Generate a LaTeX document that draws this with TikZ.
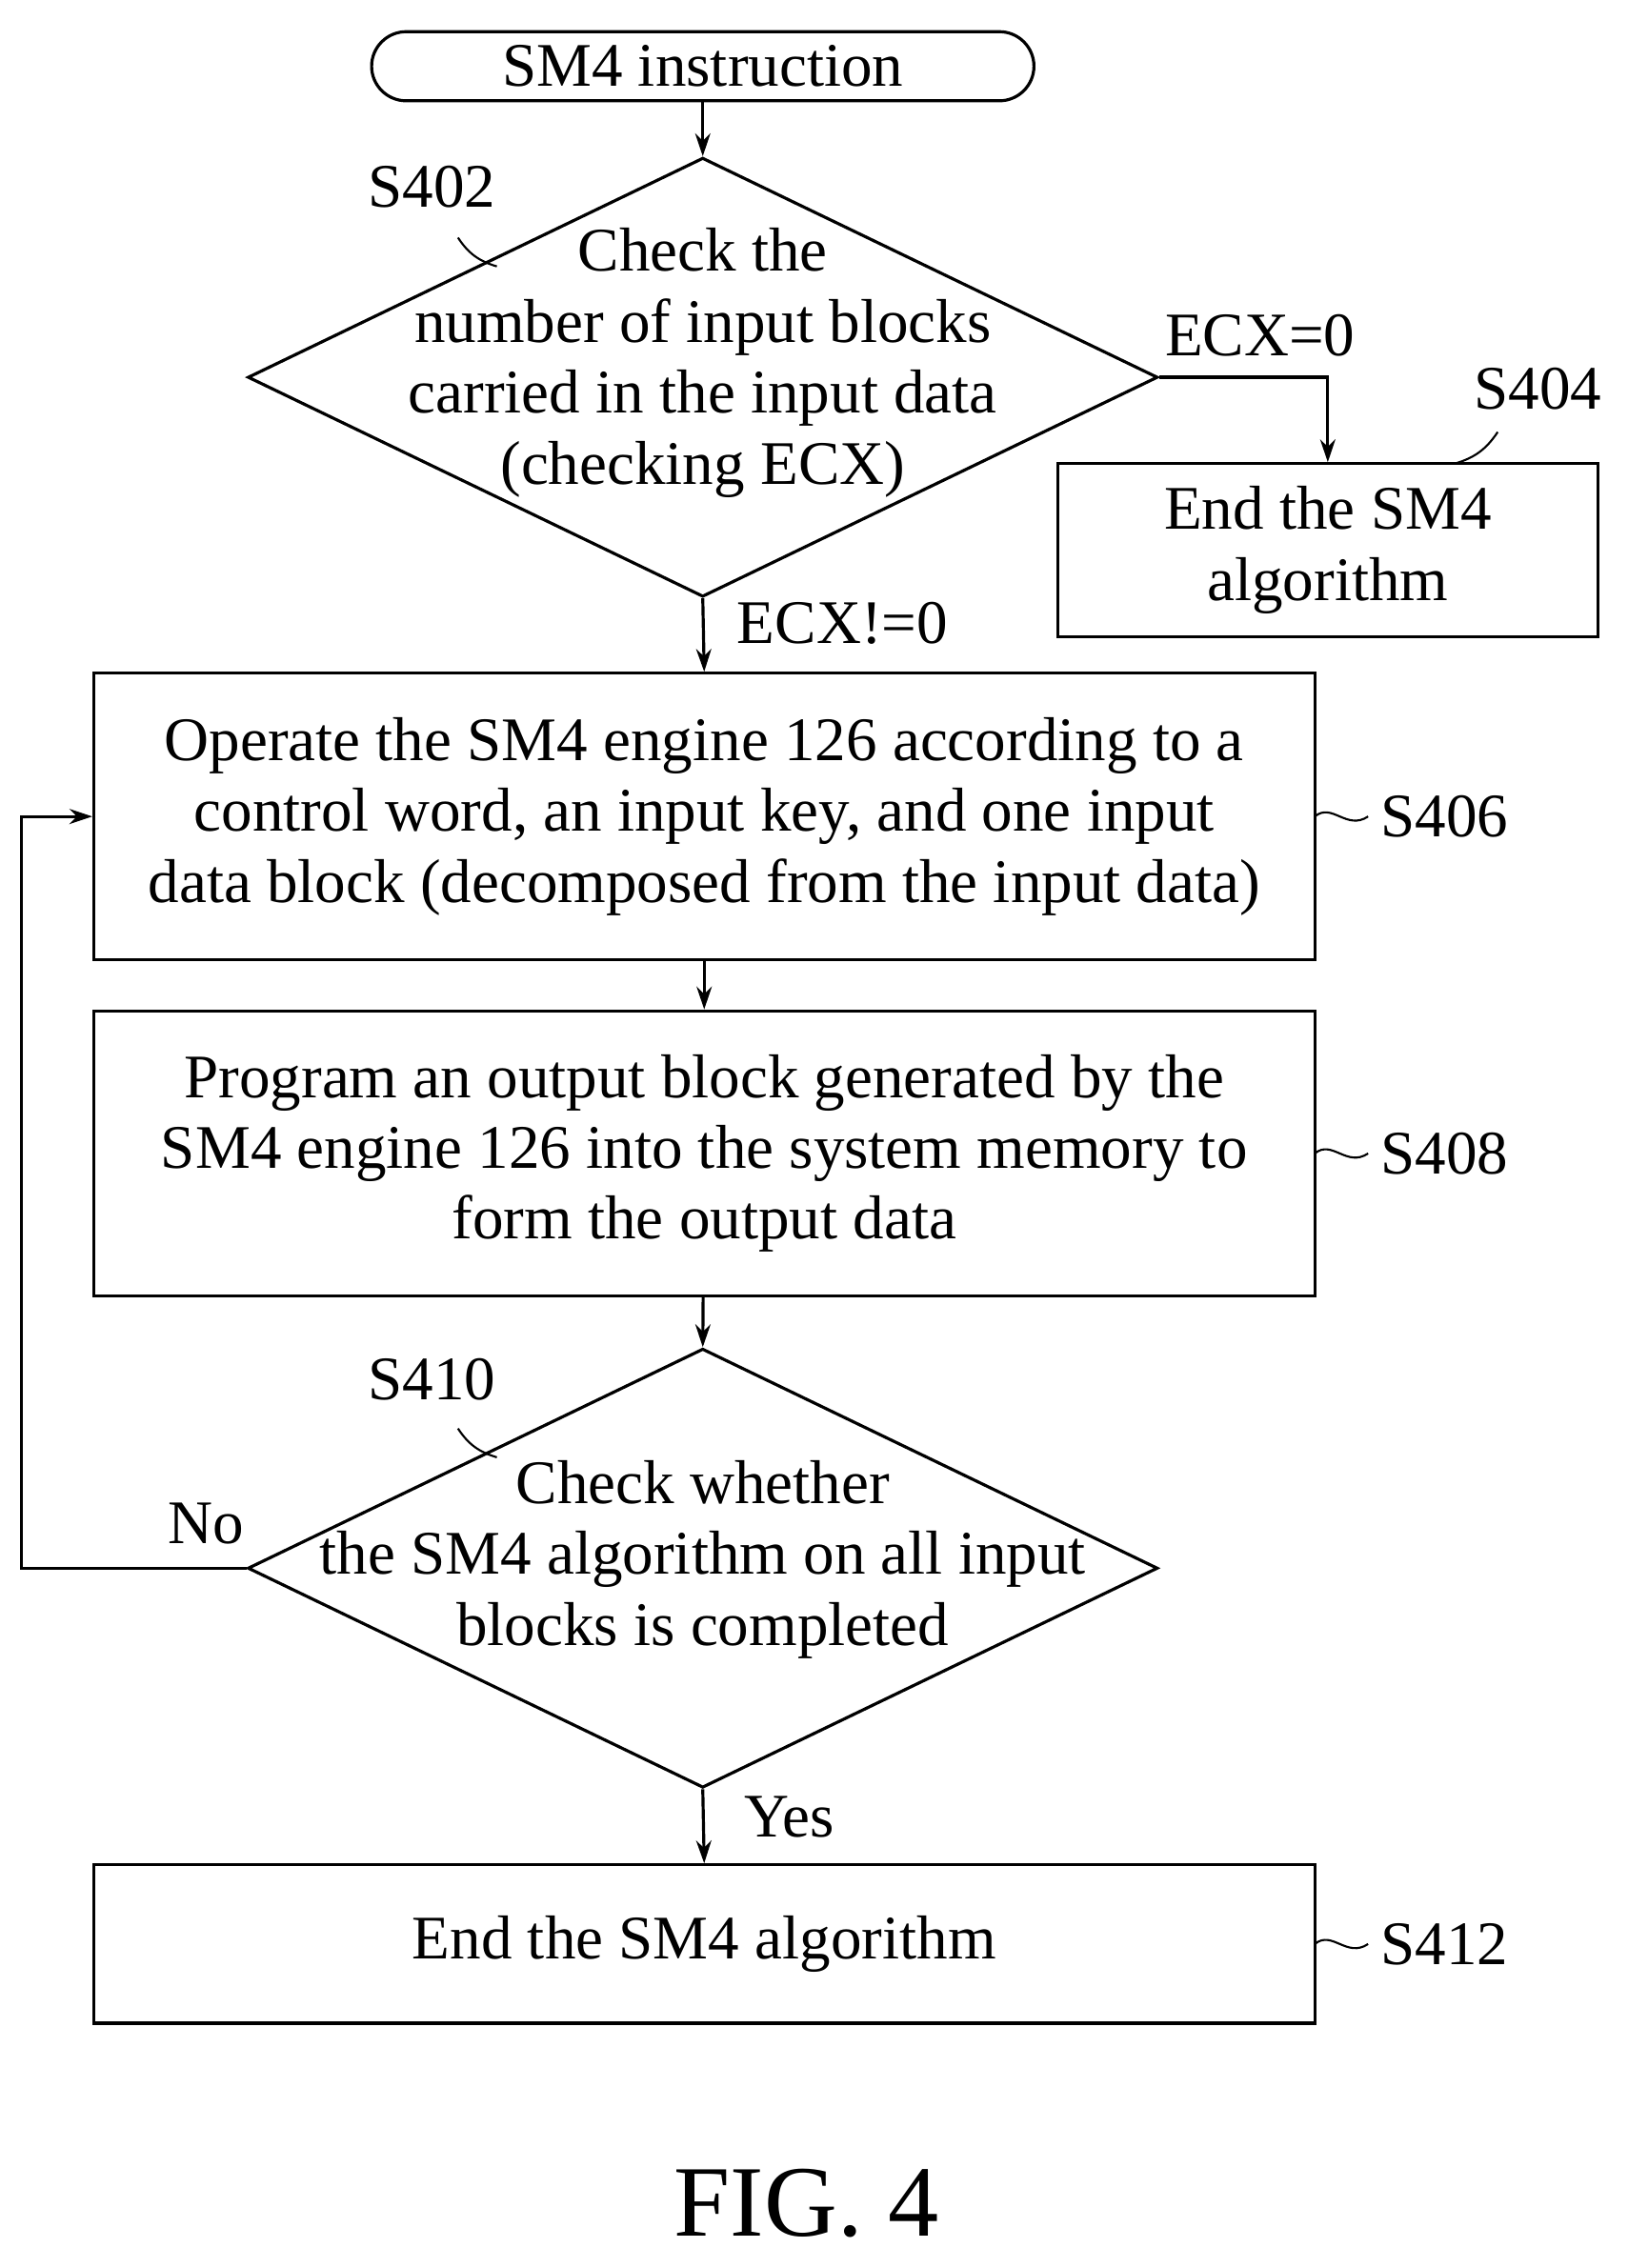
\documentclass[tikz,border=0pt]{standalone}
\usepackage{fontspec}
\setmainfont{Liberation Serif}
\usetikzlibrary{arrows.meta,shapes,positioning,calc}

\begin{document}
\begin{tikzpicture}[x=0.02cm, y=-0.02cm, line width=1.2pt,
    every node/.style={font=\fontsize{24.5}{28}\selectfont},
    stepbox/.style={draw, minimum width=16.96cm},
    decision/.style={draw, diamond, inner sep=0pt, minimum width=12.64cm, minimum height=6.1cm},
    flow/.style={-{Stealth[length=9pt,width=6pt]}}]
    \useasboundingbox (0,0) rectangle (1130,1575);

    % Start
    \node[draw, rounded corners=0.48cm, minimum width=9.2cm, minimum height=0.96cm] (start) at (488,46) {SM4 instruction};

    % S402 check
    \node[decision] (chk) at (488,262) {};
    \node[align=center] (chktext) at (488,252) {Check the\\number of input blocks\\carried in the input data\\(checking ECX)};
    \node (lab402) at (300,130) {S402};
    \draw[line width=0.8pt] (318,165) to[bend right=20] (345,185);

    % S404 end
    \node[draw, minimum width=7.5cm, minimum height=2.4cm, align=center] (endA) at (922,382) {End the SM4\\algorithm};
    \node (lab404) at (1068,270) {S404};
    \draw[line width=0.8pt] (1040,300) to[bend left=20] (1010,322);
    \node (ecxzero) at (875,233) {ECX=0};

    % S406, S408
    \node[stepbox, minimum height=3.98cm, align=center] (op) at (489,567) {Operate the SM4 engine 126 according to a\\control word, an input key, and one input\\data block (decomposed from the input data)};
    \node (lab406) at (1003,567) {S406};
    \node (ecxnz) at (585,433) {ECX!=0};
    \node[stepbox, minimum height=3.96cm, align=center] (prog) at (489,801) {Program an output block generated by the\\SM4 engine 126 into the system memory to\\form the output data};
    \node (lab408) at (1003,801) {S408};
    \draw[line width=0.8pt] (913,567) .. controls (925,557) and (935,577) .. (950,567);
    \draw[line width=0.8pt] (913,801) .. controls (925,791) and (935,811) .. (950,801);

    % S410 check
    \node[decision] (done) at (488,1089) {};
    \node[align=center] (donetext) at (488,1083) {Check whether\\the SM4 algorithm on all input\\blocks is completed};
    \node (lab410) at (300,958) {S410};
    \draw[line width=0.8pt] (318,992) to[bend right=20] (345,1012);
    \node (no) at (143,1058) {No};
    \node (yes) at (548,1262) {Yes};

    % S412 end
    \node[stepbox, minimum height=2.2cm] (endB) at (489,1350) {End the SM4 algorithm};
    \node (lab412) at (1003,1350) {S412};
    \draw[line width=0.8pt] (913,1350) .. controls (925,1340) and (935,1360) .. (950,1350);

    \coordinate (loop) at (15,1089);

    % Connectors
    \draw[flow] (start) -- (chk.north);
    \draw[flow] (chk.east) -| (endA.north);
    \draw[flow] (chk.south) -- (op.north);
    \draw[flow] (op) -- (prog);
    \draw[flow] (prog) -- (done.north);
    \draw[flow] (done.south) -- (endB.north);
    \draw[flow] (done.west) -- (loop) |- (op.west);

    \node[font=\fontsize{40}{44}\selectfont] (fig) at (560,1530) {FIG. 4};
\end{tikzpicture}
\end{document}
